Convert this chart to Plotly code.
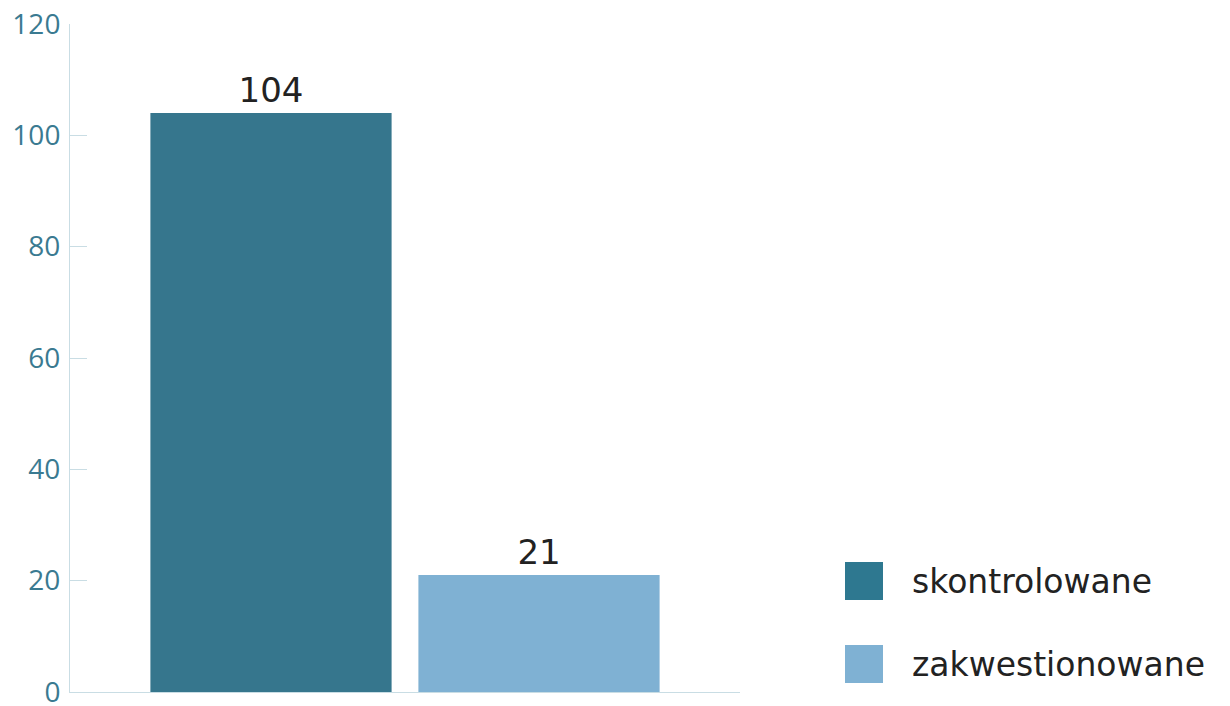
import plotly.graph_objects as go

categories = [""]
series_names = ["skontrolowane", "zakwestionowane"]
series_values = [[104], [21]]
series_colors = ["#36768D", "#7FB1D3"]
legend_colors = ["#2E7890", "#7FB1D3"]
tick_vals = [0, 20, 40, 60, 80, 100, 120]

fig = go.Figure()
for name, vals, col in zip(series_names, series_values, series_colors):
    fig.add_trace(go.Bar(
        x=categories, y=vals, name=name, marker=dict(color=col, line=dict(width=0)),
        text=[str(v) for v in vals], textposition="outside",
        textfont=dict(family="DejaVu Sans", size=34, color="#222222"),
        cliponaxis=False, showlegend=False,
    ))

# custom legend (positions relative to plot area)
for i, (name, col) in enumerate(zip(series_names, legend_colors)):
    yc = 581 + i * 83
    fig.add_shape(type="rect", xref="paper", yref="paper",
                  x0=(845 - 70) / 670, x1=(883 - 70) / 670,
                  y0=(692 - (yc + 19)) / 668, y1=(692 - (yc - 19)) / 668,
                  fillcolor=col, line=dict(width=0))
    fig.add_annotation(xref="paper", yref="paper", x=(910 - 70) / 670,
                       y=(692 - yc) / 668, text=name, showarrow=False,
                       xanchor="left", yanchor="middle",
                       font=dict(family="DejaVu Sans", size=33, color="#222222"))

# page body has an 8px margin, so the figure is sized to fit inside the window
fig.update_layout(
    width=1222, height=698,
    margin=dict(l=62, r=490, t=16, b=14),
    plot_bgcolor="white", paper_bgcolor="white",
    barmode="group", bargap=0.2, bargroupgap=0.1,
    showlegend=False,
)
fig.update_yaxes(range=[0, 120], tickvals=tick_vals, showgrid=False, zeroline=False,
                 showline=True, linecolor="#C9DDE4", linewidth=1, automargin=False,
                 ticks="inside", ticklen=17, tickcolor="#C9DDE4", ticklabeloverflow="allow",
                 tickfont=dict(family="Open Sans", size=28, color="#3A7A91"), ticklabelstandoff=3)
fig.update_xaxes(showgrid=False, zeroline=False, showline=True, linecolor="#C9DDE4",
                 linewidth=1, ticks="inside", tickson="boundaries", ticklen=15, automargin=False,
                 tickcolor="#C9DDE4", showticklabels=False)

fig.write_html("out.html")
